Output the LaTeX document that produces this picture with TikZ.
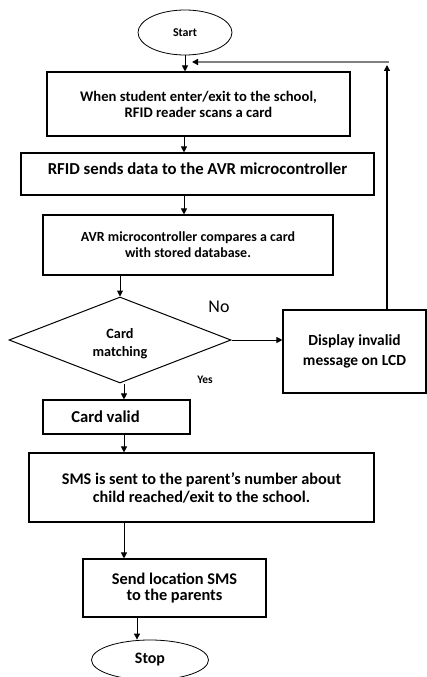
\documentclass[tikz,border=0pt]{standalone}
\usepackage{fontspec}
\setmainfont{Carlito}
\usetikzlibrary{shapes.geometric,arrows.meta}
\newcommand\fsz[2]{\fontsize{#1}{#2}\selectfont\bfseries}
\tikzset{
  flowbox/.style={draw, rectangle, line width=1.1bp, inner sep=0pt, align=center},
  term/.style={draw, ellipse, line width=0.8bp, inner sep=0pt},
  decide/.style={draw, diamond, line width=1bp, inner sep=0pt, align=center},
  flow/.style={line width=1bp, -{Triangle[length=6bp,width=6bp,color=black]}},
  loopback/.style={flow, draw=gray, line width=2bp},
}
\begin{document}
\begin{tikzpicture}[x=1bp,y=-1bp]
      \useasboundingbox (0,0) rectangle (426,677);
      % terminals and steps
      \node[term, minimum width=94bp, minimum height=45bp, font=\fsz{12}{12}]
        (start) at (185,32.5) {Start};
      \node[flowbox, minimum width=303bp, minimum height=64bp, font=\fsz{14.7}{16}]
        (scan) at (198.5,104) {When student enter/exit to the school,\\RFID reader scans a card};
      \node[flowbox, minimum width=353bp, minimum height=42bp, font=\fsz{16.8}{16}]
        (send) at (197.5,174) {\rule[-10bp]{0pt}{10bp}RFID sends\ data to the AVR microcontroller};
      \node[flowbox, minimum width=290bp, minimum height=60bp, font=\fsz{14}{16}]
        (cmp) at (188,245) {AVR microcontroller compares a card\\with stored database.};
      \node[decide, minimum width=222bp, minimum height=86bp,
        label={[font=\fsz{14.3}{18}, align=center, yshift=-4bp]center:Card\\matching}]
        (match) at (120,340) {};
      \node[flowbox, minimum width=143bp, minimum height=83bp, font=\fsz{15.5}{20}]
        (lcd) at (354.5,351.5) {Display invalid\\message on LCD};
      \node[flowbox, minimum width=147bp, minimum height=34bp, font=\fsz{16.7}{16}]
        (valid) at (116.5,417) {Card valid\hspace{22bp}};
      \node[flowbox, minimum width=345bp, minimum height=69bp, font=\fsz{16.3}{18}]
        (sms) at (201.5,487.5) {SMS is sent to the parent's number about\\child reached/exit to the school.};
      \node[flowbox, minimum width=183bp, minimum height=58bp, font=\fsz{16.4}{16}]
        (loc) at (174.5,588) {Send location SMS\\to the parents};
      \node[term, minimum width=117bp, minimum height=40bp, font=\fsz{16}{16}]
        (stop) at (150,660) {Stop};
      % branch labels
      \node[font=\fontsize{18}{18}\selectfont] (no) at (219,307) {No};
      \node[font=\fsz{11.5}{12}] (yes) at (205,380) {Yes};
      \coordinate (ret) at (387,62);
      \coordinate (join) at (192,62);
      \coordinate (spine) at (124,0);
      \coordinate (low) at (137,0);
      % connectors
      \draw[flow] (start.south) -- (start.south |- scan.north);
      \draw[flow] (184,0 |- scan.south) -- (184,0 |- send.north);
      \draw[flow] (184,0 |- send.south) -- (184,0 |- cmp.north);
      \draw[flow] (cmp.south -| match.north) -- (match.north);
      \draw[flow] (match.east) -- (match.east -| lcd.west);
      \draw[loopback] ([xshift=2bp]ret) -- (join);
      \draw[flow, line width=1.4bp] (lcd.north -| ret) -- ([yshift=-3bp]ret);
      \draw[flow] (match.south -| spine) -- (valid.north -| spine);
      \draw[flow] (valid.south -| spine) -- (sms.north -| spine);
      \draw[flow] (sms.south -| spine) -- (loc.north -| spine);
      \draw[flow] (loc.south -| low) -- (stop.north -| low);
    \end{tikzpicture}
\end{document}
